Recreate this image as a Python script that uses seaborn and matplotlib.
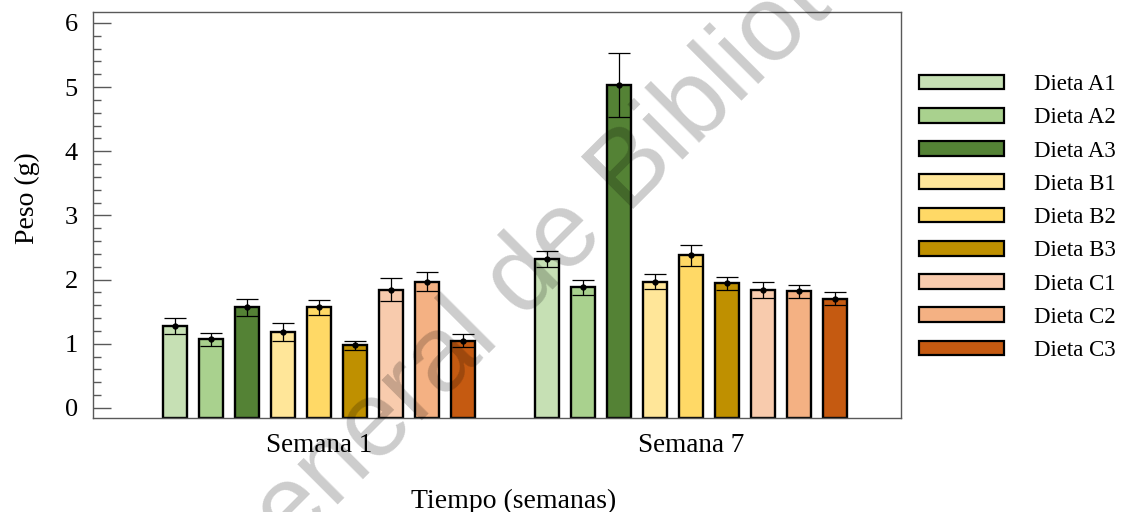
import numpy as np
import pandas as pd
import matplotlib
matplotlib.use("Agg")
import matplotlib.pyplot as plt
from matplotlib.ticker import MultipleLocator
import seaborn as sns

# Weekly mean body weight (g) per diet, with error bar half-widths
semanas = ["Semana 1", "Semana 7"]
dietas = ["Dieta A1", "Dieta A2", "Dieta A3",
          "Dieta B1", "Dieta B2", "Dieta B3",
          "Dieta C1", "Dieta C2", "Dieta C3"]
peso_semana1 = [1.28, 1.07, 1.57, 1.19, 1.57, 0.98, 1.84, 1.97, 1.05]
peso_semana7 = [2.32, 1.88, 5.03, 1.97, 2.38, 1.94, 1.84, 1.82, 1.70]
error_semana1 = [0.12, 0.10, 0.13, 0.14, 0.12, 0.07, 0.18, 0.15, 0.10]
error_semana7 = [0.12, 0.12, 0.50, 0.11, 0.16, 0.10, 0.12, 0.10, 0.10]
colores = ["#c6e0b4", "#a9d18e", "#548235",
           "#ffe699", "#ffd966", "#bf9000",
           "#f8cbad", "#f4b183", "#c55a11"]

df = pd.DataFrame({
    "Tiempo": [s for s in semanas for _ in dietas],
    "Dieta": dietas * len(semanas),
    "Peso": peso_semana1 + peso_semana7,
})
errores = {d: [e1, e7] for d, e1, e7 in zip(dietas, error_semana1, error_semana7)}

sns.set_style("ticks")
plt.rcParams["font.family"] = ["Liberation Serif", "DejaVu Serif"]
plt.rcParams["text.color"] = "black"
plt.rcParams["axes.labelcolor"] = "black"
plt.rcParams["ytick.labelcolor"] = "black"
plt.rcParams["xtick.labelcolor"] = "black"

fig = plt.figure(figsize=(11.29, 5.12), dpi=100)
ax = fig.add_axes([93 / 1129, 1 - 418 / 512, (901 - 93) / 1129, (418 - 12) / 512])

y_min, y_max = -0.156, 6.17

sns.barplot(data=df, x="Tiempo", y="Peso", hue="Dieta", order=semanas,
            hue_order=dietas, palette=dict(zip(dietas, colores)),
            saturation=1, errorbar=None, width=0.87, gap=0.34,
            edgecolor="black", linewidth=1.7, ax=ax)

# bars rise from the bottom of the frame; error bars and mean markers on top
for dieta, cont in zip(dietas, ax.containers):
    for j, bar in enumerate(cont):
        valor = bar.get_height()
        bar.set_y(y_min)
        bar.set_height(valor - y_min)
        xc = bar.get_x() + bar.get_width() / 2
        ax.errorbar(xc, valor, yerr=errores[dieta][j], fmt="o",
                    ms=3.5, color="black", ecolor="black", elinewidth=0.9,
                    capsize=8, capthick=0.9, zorder=5)

ax.set_xlim(-0.607, 1.565)
ax.set_ylim(y_min, y_max)
ax.yaxis.set_major_locator(MultipleLocator(1))
ax.yaxis.set_minor_locator(MultipleLocator(0.2))
ax.tick_params(axis="y", which="major", direction="in", length=13, width=1,
               color="#595959", labelsize=19, pad=11, right=False)
ax.tick_params(axis="y", which="minor", direction="in", length=6, width=1,
               color="#595959", right=False)
ax.tick_params(axis="x", length=0, labelsize=19.5, pad=11)
for sp in ax.spines.values():
    sp.set_visible(True)
    sp.set_linewidth(1.0)
    sp.set_color("#595959")

ax.set_ylabel("Peso (g)", fontsize=20)
ax.yaxis.set_label_coords((40 - 93) / 808, (418 - 198) / 406)
ax.set_xlabel("Tiempo (semanas)", fontsize=20)
ax.xaxis.set_label_coords((514 - 93) / 808, -0.175)

handles, labels = ax.get_legend_handles_labels()
for h in handles:
    h.set_edgecolor("black")
    h.set_linewidth(1.6)
ax.legend(handles, labels, loc="upper left",
          bbox_to_anchor=(919 / 1129, 1 - 74 / 512), bbox_transform=fig.transFigure,
          frameon=False, fontsize=16.5, handlelength=3.7, handleheight=0.62,
          handletextpad=1.3, labelspacing=0.535, borderpad=0, borderaxespad=0)

# diagonal watermark across the figure
fig.text(232 / 1129, 1 - 610 / 512, "General de Bibliotecas",
         family="Liberation Sans", fontsize=77,
         color="black", alpha=0.2, rotation=45, rotation_mode="anchor",
         ha="left", va="baseline", zorder=10)

fig.savefig("out.png", dpi=100)
